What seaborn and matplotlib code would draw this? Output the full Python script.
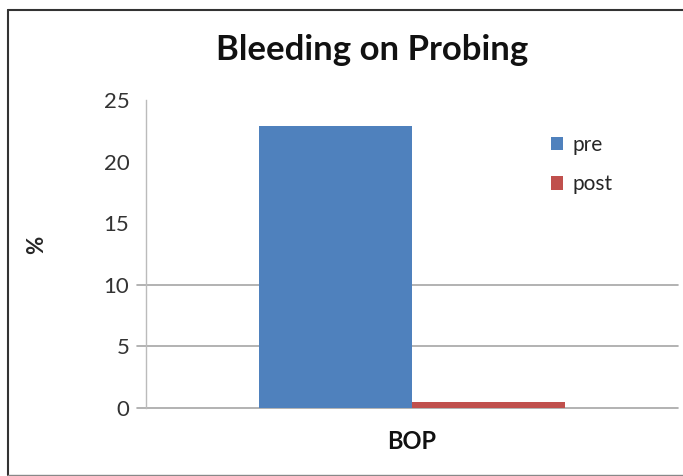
import matplotlib
matplotlib.use("Agg")
import matplotlib.pyplot as plt
import seaborn as sns
import pandas as pd

# Data
categories = ["BOP"]
series = ["pre", "post"]
pre_values = [22.9]
post_values = [0.45]
y_ticks = [0, 5, 10, 15, 20, 25]

colors = {"pre": "#4F81BD", "post": "#C0504D"}

df = pd.DataFrame({
    "category": categories * 2,
    "phase": ["pre"] * len(pre_values) + ["post"] * len(post_values),
    "value": pre_values + post_values,
})

sns.set_theme(style="white")
plt.rcParams["font.family"] = ["Lato", "DejaVu Sans"]

fig = plt.figure(figsize=(6.83, 4.76), dpi=100)
ax = fig.add_axes([146 / 683, 1 - 408 / 476, 532 / 683, 308 / 476])

sns.barplot(data=df, x="category", y="value", hue="phase", hue_order=series,
            palette=colors, width=0.575, gap=0, saturation=1, ax=ax,
            edgecolor="none", linewidth=0)

ax.set_ylim(0, 25)
ax.set_xlim(-0.5, 0.5)
ax.set_yticks(y_ticks)
ax.set_yticklabels([str(t) for t in y_ticks], fontsize=16, color="#333333")
ax.tick_params(axis="y", length=0, pad=12)
ax.tick_params(axis="x", length=0, pad=16)
ax.set_xticks([0])
ax.set_xticklabels(categories, fontsize=17, fontweight="bold", color="#111111")
ax.set_xlabel("")
ax.set_ylabel("%", fontsize=16, fontweight="bold", labelpad=0)
ax.yaxis.set_label_coords(-0.185, 0.53)

for s in ["top", "right", "bottom"]:
    ax.spines[s].set_visible(False)
ax.spines["left"].set_color("#BBBBBB")
ax.spines["left"].set_linewidth(1.0)

# Horizontal rules at 0, 5 and 10 extending slightly left of the axis
for y in [0, 5, 10]:
    ax.axhline(y, xmin=-0.017, xmax=1, color="#A6A6A6", linewidth=1.2,
               clip_on=False, zorder=0.5)

# Legend
handles, labels = ax.get_legend_handles_labels()
ax.legend(handles, labels, loc="upper left", bbox_to_anchor=(0.745, 0.915),
          frameon=False, fontsize=15, handlelength=0.6, handleheight=0.6,
          handletextpad=0.45, labelspacing=0.95, borderaxespad=0)

# Title
fig.text(372 / 683, 1 - 50 / 476, "Bleeding on Probing", ha="center", va="center",
         fontsize=25, fontweight="bold", color="#111111")

# Outer frame (left, top, bottom edges)
fig.add_artist(plt.Line2D([8 / 683, 8 / 683], [1 - 10 / 476, 1 - 475 / 476],
                          transform=fig.transFigure, color="#333333", linewidth=1.5))
fig.add_artist(plt.Line2D([8 / 683, 1], [1 - 10 / 476, 1 - 10 / 476],
                          transform=fig.transFigure, color="#333333", linewidth=1.5))
fig.add_artist(plt.Line2D([8 / 683, 1], [1 - 475 / 476, 1 - 475 / 476],
                          transform=fig.transFigure, color="#888888", linewidth=1.0))

fig.savefig("out.png", dpi=100)
